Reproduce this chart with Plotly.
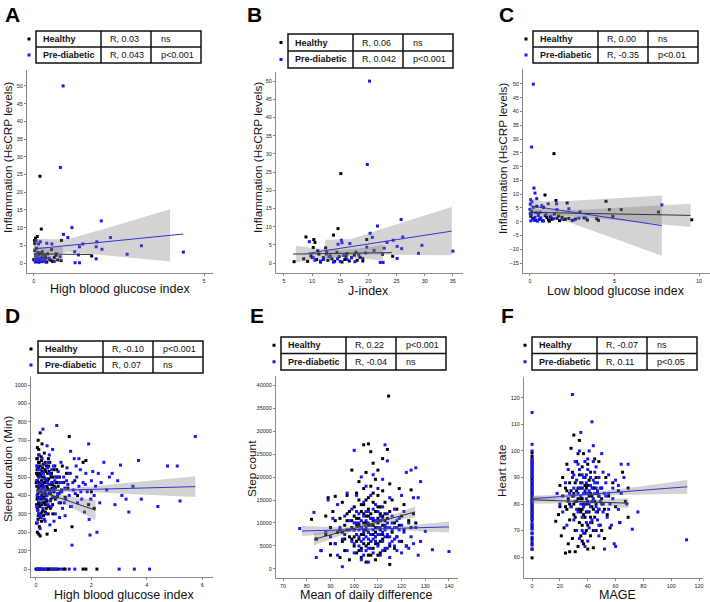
import numpy as np
import plotly.graph_objects as go

W, H = 710, 602
BLUE = "rgb(22,22,250)"
BLACK = "#000000"
FONT = "Liberation Sans, Arial, sans-serif"

# ---------------- DATA ----------------
# Panel A: High blood glucose index vs HsCRP
A_healthy = [(0.18,24.5),(0.22,9.6),(0.81,6.4),(1.70,2.0),(0.00,1.0),(0.02,6.4),(0.03,3.5),(0.05,7.0),(0.05,2.0),(0.07,0.8),
             (0.08,4.2),(0.10,7.5),(0.10,1.5),(0.12,3.0),(0.12,0.5),(0.15,2.4),(0.15,1.2),(0.18,0.6),(0.20,2.8),(0.20,1.0),
             (0.25,3.2),(0.25,1.8),(0.30,0.9),(0.32,2.2),(0.35,1.5),(0.38,0.3),(0.40,2.6),(0.45,1.1),(0.50,0.8),(0.52,3.8),
             (0.55,0.5),(0.60,1.6),(0.65,2.2),(0.70,0.9),(0.80,0.7),(0.03,5.5)]
A_prediab = [(0.86,50),(0.78,27),(1.98,11.9),(1.12,10),(0.87,8.1),(1.0,7.2),(2.25,7.2),(1.85,6.0),(1.44,5.4),(0.53,5.4),
             (0.38,5.6),(0.19,6.0),(0.14,5.4),(0.07,6.3),(1.83,4.6),(2.0,3.9),(3.16,4.9),(2.74,2.5),(4.39,3.1),(1.34,4.6),
             (1.2,3.2),(1.31,2.3),(1.83,1.2),(1.21,0.1),(1.34,0.1),(0.66,2.7),(0.77,1.8),(0.02,0.8),(0.05,0.3),(0.08,1.2),
             (0.1,0.5),(0.12,0.9),(0.15,0.2),(0.18,1.5),(0.2,0.6),(0.25,0.4),(0.3,1.0),(0.35,0.3),(0.05,2.2),(0.1,1.8),
             (0.22,0.7),(0.28,2.0),(0.45,1.4),(0.6,0.5)]
A_fit_h = dict(line_x=[0, 1.7], line_y=[2.6, 2.4], band_x=[0, 0.45, 0.85], band_w=[2.2, 1.8, 2.1])
A_fit_p = dict(line_x=[0, 4.39], line_y=[4.0, 8.2], band_x=[0, 1, 2, 3, 4], band_w=[2.8, 1.8, 3.6, 5.4, 7.4])

# Panel B: J-index vs HsCRP
B_healthy = [(15.1,24.6),(14.6,9.5),(8.9,7.2),(10.3,6.5),(10.5,5.7),(13.8,7.7),(19.7,6.5),(6.8,0.4),(24.3,1.9),(8.5,1.2),
             (9.2,0.5),(9.8,2.0),(10.2,4.3),(10.8,1.0),(11.2,2.5),(11.5,0.3),(12.0,1.5),(12.4,4.2),(12.8,0.8),(13.2,2.0),
             (13.5,1.2),(14.0,0.5),(14.4,3.0),(14.8,1.8),(15.3,0.3),(15.8,1.0),(16.2,2.6),(16.6,0.6),(17.0,1.5),(17.5,2.2),
             (18.0,0.8),(18.5,1.6),(19.0,0.6),(11.0,3.4),(12.6,2.9),(16.0,1.9),(17.8,3.0),(10.0,1.6)]
B_prediab = [(20.2,50),(19.8,27.1),(25.8,12.0),(21.6,10.2),(20.3,8.2),(20.7,7.1),(26.1,7.2),(9.5,5.9),(15.2,6.3),(15.3,5.6),
             (16.7,5.4),(14.6,5.2),(24.4,6.3),(29.5,4.9),(25.9,4.0),(25.1,4.6),(22.8,4.1),(19.7,4.4),(23.3,5.7),(28.9,2.7),
             (35.0,3.3),(25.1,1.3),(22.5,2.4),(22.1,0.2),(22.6,0.2),(10.5,0.8),(12.5,2.5),(10.2,1.5),(11.5,0.6),(13.0,1.8),
             (13.8,0.3),(14.5,1.2),(15.0,0.5),(15.6,2.1),(16.2,1.0),(17.0,1.6),(17.6,0.4),(18.3,2.3),(19.0,1.3),(19.5,2.8),
             (21.0,3.5),(12.0,1.0)]
B_fit_h = dict(line_x=[6.6, 24.2], line_y=[2.5, 2.9], band_x=[7.1, 11, 15, 19, 22.6], band_w=[2.3, 1.4, 1.0, 1.4, 2.2])
B_fit_p = dict(line_x=[9.2, 34.8], line_y=[2.7, 8.8], band_x=[12.3, 17, 22.6, 28, 34.8], band_w=[3.0, 2.1, 3.6, 5.0, 6.6])

# Panel C: Low blood glucose index vs HsCRP
C_healthy = [(1.42,24.7),(0.89,9.7),(1.54,7.7),(2.2,6.8),(4.5,7.4),(4.7,4.4),(5.4,4.4),(2.96,3.5),(4.9,1.9),(7.6,3.5),
             (9.57,0.7),(3.95,1.1),(4.05,0.5),(0.05,2.0),(0.1,3.8),(0.2,1.2),(0.35,0.5),(0.5,2.6),(0.6,1.0),(0.75,0.3),
             (0.9,2.2),(1.0,1.5),(1.1,0.6),(1.2,1.8),(1.3,0.9),(1.45,2.8),(1.6,1.3),(1.75,0.4),(1.9,1.6),(2.05,0.8),
             (2.3,1.2),(2.5,0.5),(2.7,1.0),(3.2,1.4),(0.4,5.6),(0.8,5.2),(1.15,0.2),(1.7,2.1),(2.1,1.0),(3.4,0.6)]
C_prediab = [(0.2,49.9),(0.1,27.1),(0.24,12.2),(0.3,10.4),(0.04,8.0),(0.02,6.4),(0.4,8.4),(1.08,6.5),(1.58,6.5),(2.3,4.7),
             (1.6,4.4),(2.9,1.3),(3.3,1.3),(7.8,6.1),(0.0,4.5),(0.05,0.3),(0.1,2.8),(0.15,1.0),(0.2,5.2),(0.25,0.5),
             (0.3,1.6),(0.35,3.3),(0.45,0.2),(0.5,2.2),(0.55,0.8),(0.65,1.4),(0.7,5.8),(0.8,0.3),(0.95,2.5),(1.25,2.0),
             (1.4,1.1),(1.9,0.9),(2.6,0.6),(0.12,7.2),(0.6,3.4),(0.02,3.0)]
C_fit_h = dict(line_x=[0, 9.5], line_y=[3.4, 2.3], band_x=[0, 1.5, 3, 5, 7.5, 9.5], band_w=[1.5, 1.0, 1.3, 2.2, 3.3, 4.2])
C_fit_p = dict(line_x=[0, 7.8], line_y=[5.8, -1.4], band_x=[0, 0.8, 2, 4, 6, 7.8], band_w=[2.8, 2.3, 3.5, 6.0, 8.5, 10.9])

# Panel D: High blood glucose index vs sleep duration
D_healthy = [(0.02,520),(0.03,450),(0.04,380),(0.05,600),(0.05,330),(0.06,480),(0.07,410),(0.08,550),(0.08,290),(0.09,360),
             (0.10,500),(0.10,430),(0.11,620),(0.12,390),(0.13,470),(0.14,340),(0.15,560),(0.15,420),(0.16,510),(0.17,300),
             (0.18,450),(0.19,380),(0.20,590),(0.20,480),(0.21,350),(0.22,530),(0.23,410),(0.24,460),(0.25,320),(0.26,570),
             (0.27,440),(0.28,390),(0.29,500),(0.30,360),(0.31,470),(0.32,540),(0.33,420),(0.34,310),(0.35,480),(0.36,400),
             (0.38,560),(0.39,450),(0.40,370),(0.42,520),(0.43,430),(0.45,340),(0.46,490),(0.48,410),(0.50,580),(0.52,460),
             (0.54,380),(0.56,520),(0.58,440),(0.60,350),(0.62,500),(0.65,420),(0.68,560),(0.70,380),(0.72,470),(0.75,540),
             (0.78,400),(0.80,450),(0.85,500),(0.88,360),(0.92,430),(0.95,560),(1.00,470),(1.05,390),(1.10,520),(1.15,440),
             (1.20,720),(1.25,340),(1.30,230),(1.40,480),(1.50,400),(1.70,580),(1.80,590),(1.90,350),(2.00,420),(2.10,330),
             (0.02,250),(0.05,200),(0.07,270),(0.10,190),(0.15,180),(0.12,230),(0.20,260),(0.40,190),(0.70,210),(0.05,660),
             (0.10,650),(0.08,700),(0.15,740),(0.22,680),(0.03,600),(0.30,630),(0.45,600),
             (0.0,0),(0.05,0),(0.1,0),(0.15,0),(0.2,0),(0.3,0),(0.4,0),(0.45,0),(0.5,0),(0.6,0),(0.7,0),(0.8,0),(1.0,0),
             (1.05,0),(1.7,0),(1.8,0),(2.2,0),
             (0.01,470),(0.04,540),(0.06,390),(0.09,580),(0.11,350),(0.13,520),(0.17,430),(0.19,610),(0.23,500),(0.27,360),
             (0.33,580),(0.37,330),(0.41,440),(0.47,530),(0.53,410),(0.57,470),(0.63,390),(0.66,450),(0.74,500),(0.83,410),
             (0.03,560),(0.06,510),(0.09,440),(0.12,580),(0.14,460),(0.18,520),(0.21,400),(0.24,550),(0.28,470),(0.31,410),
             (0.35,530),(0.38,370),(0.42,480),(0.46,560),(0.50,430),(0.55,500),(0.60,460),(0.64,540),(0.70,440),(0.76,470),
             (0.02,350),(0.07,320),(0.11,300),(0.16,280),(0.22,310),(0.27,290),(0.34,350),(0.44,300),(0.52,330),(0.61,300)]
D_prediab = [(0.02,480),(0.04,400),(0.05,560),(0.06,320),(0.08,450),(0.10,380),(0.10,620),(0.12,500),(0.14,290),(0.15,430),
             (0.17,540),(0.18,360),(0.20,470),(0.22,600),(0.24,410),(0.25,330),(0.27,520),(0.29,450),(0.30,380),(0.32,570),
             (0.34,430),(0.36,300),(0.38,490),(0.40,400),(0.42,550),(0.44,350),(0.46,460),(0.48,620),(0.50,420),(0.53,510),
             (0.55,340),(0.58,470),(0.60,390),(0.63,560),(0.66,440),(0.70,300),(0.72,500),(0.75,780),(0.78,410),(0.80,530),
             (0.83,360),(0.86,470),(0.90,580),(0.93,420),(0.96,330),(1.00,500),(1.04,440),(1.08,380),(1.12,550),(1.15,460),
             (1.20,400),(1.24,520),(1.28,340),(1.30,130),(1.33,470),(1.38,600),(1.42,410),(1.47,500),(1.50,360),(1.55,450),
             (1.60,540),(1.65,380),(1.70,470),(1.75,310),(1.80,520),(1.85,420),(1.90,680),(1.92,270),(1.95,185),(2.00,480),
             (2.05,530),(2.10,400),(2.15,450),(2.20,200),(2.25,520),(2.30,360),(2.35,470),(2.45,580),(2.55,430),(2.65,500),
             (2.75,520),(2.85,350),(2.95,480),(3.05,565),(3.10,400),(3.25,380),(3.35,310),(3.50,450),(3.70,590),(3.80,380),
             (4.40,340),(4.75,560),(5.10,560),(5.20,370),(5.75,720),(0.25,760),(0.05,250),(0.15,220),(0.30,270),(0.50,240),
             (0.65,260),(0.85,280),(1.05,290),(0.40,670),(0.60,650),(1.25,640),(1.55,600),
             (0.05,0),(0.15,0),(0.25,0),(0.35,0),(0.55,0),(0.65,0),(0.75,0),(0.90,0),(1.20,0),(1.40,0),(3.00,0),(3.55,0),(4.10,0),
             (0.07,540),(0.11,460),(0.16,390),(0.21,520),(0.26,440),(0.31,490),(0.37,380),(0.41,470),(0.47,520),(0.52,370),
             (0.57,540),(0.62,430),(0.68,480),(0.74,390),(0.82,500),(0.88,420),(0.95,470),(1.02,360),(1.10,480),(1.18,520),
             (1.35,430),(1.45,560),(1.62,420),(1.78,460),(1.98,380),(0.03,340),(0.09,300),(0.19,280),(0.33,260),(0.45,580)]
D_fit_h = dict(line_x=[0, 2.15], line_y=[430, 320], band_x=[0, 0.5, 1.0, 1.6, 2.15], band_w=[12, 10, 22, 38, 55])
D_fit_p = dict(line_x=[0, 5.75], line_y=[425, 448], band_x=[0, 0.8, 2, 4, 5.75], band_w=[12, 9, 15, 38, 57])

# Panel E: Mean of daily difference vs step count
E_healthy = [(82,10800),(84,6500),(86,4000),(88,7500),(89,15500),(90,3000),(90,9000),(91,12500),(92,5500),(92,15800),
             (93,8000),(94,2500),(94,11000),(95,6000),(95,14500),(96,9500),(96,4000),(97,12000),(97,16000),(98,7000),
             (98,2000),(99,10500),(99,21500),(100,5000),(100,13500),(100,8500),(101,16500),(101,3500),(102,11000),(102,6500),
             (102,19000),(103,9000),(103,14000),(103,2500),(104,27000),(104,7500),(104,12000),(104,17500),(105,5000),(105,10000),
             (105,15000),(105,21000),(106,27200),(106,8000),(106,3000),(106,13000),(107,25500),(107,11000),(107,6000),(107,18000),
             (108,9500),(108,14500),(108,4500),(108,23000),(109,7000),(109,12500),(109,2000),(109,19500),(110,10000),(110,16000),
             (110,5500),(110,21500),(111,8500),(111,13500),(111,3500),(112,11500),(112,6500),(112,17000),(112,24000),(113,9000),
             (113,4000),(113,14500),(114.5,37600),(114,26000),(114,7000),(114,11000),(115,18500),(115,5000),(115,1000),(115,12500),
             (116,8000),(116,15000),(117,10000),(117,4500),(118,13000),(118,7000),(119,9500),(119,17500),(120,6000),(120,11500),
             (121,14000),(121,8500),(122,5000),(123,10500),(124,17200),(124,9000),(125,12000),(126,10000),(103,4500),(101,9500),
             (99,6500),(97,8500),(105,1500),(107,3000),(109,9000),(111,6000),(113,12000),(100,11500),(104,10000),(106,5500),
             (108,7500),(110,3000),(112,9500),(102,15000),(98,12500),(96,6500),(94,8500),(92,10500),(90,5500),(88,11500),
             (100,7000),(101,11000),(102,9500),(103,12500),(104,8500),(105,11500),(106,9500),(107,12000),(108,10500),(109,8000),
             (110,11000),(111,10500),(112,7500),(113,10500),(101,6000),(103,7500),(105,8500),(107,7500),(109,5500),(111,12000),
             (104,5500),(106,15500),(108,16500),(110,13500),(102,4000),(99,9000),(97,10500),(95,8000),(106,11500),(104,14000)]
E_prediab = [(77,8800),(83,12300),(84,2500),(84,6500),(86,4000),(88,8000),(89,15000),(90,7000),(91,11000),(92,5500),
             (93,3000),(93,14000),(94,9000),(95,500),(95,6500),(96,11500),(97,4000),(97,16500),(98,8500),(99,6000),
             (99,13000),(100,25800),(100,3500),(100,10000),(101,7500),(101,16000),(102,5000),(102,12000),(103,9000),(103,2000),
             (103,20000),(104,6500),(104,14500),(105,10500),(105,4000),(105,18000),(106,8000),(106,12500),(106,1500),(107,6000),
             (107,16000),(107,9500),(108,3500),(108,11000),(108,20500),(109,7000),(109,14000),(110,5000),(110,9000),(110,17500),
             (111,11500),(111,3000),(111,7500),(112,13500),(112,6000),(112,19500),(113,27000),(113,9500),(113,4500),(114,23500),
             (114,12000),(114,7500),(115,15500),(115,5500),(115,2500),(116,10000),(116,8500),(117,6500),(117,13000),(118,4000),
             (118,9000),(119,11000),(119,6000),(120,16000),(120,3500),(121,8000),(121,12500),(122,5000),(122,21000),(123,10000),
             (123,4500),(124,7000),(124,21500),(125,15500),(125,5500),(126,22000),(126,9000),(127,15500),(127,3000),(128,19000),
             (128,6000),(130,8200),(133,4200),(140,3800),(96,7500),(98,10500),(100,5500),(102,8500),(104,3000),(106,10000),
             (108,6500),(110,12500),(112,8000),(114,4500),(116,11500),(118,7000),(120,9500),(101,12500),(103,6000),(105,7000),
             (107,4500),(109,10500),(111,9000),(113,7000),(115,9000),(117,5000),
             (100,8500),(101,10000),(102,7000),(103,10500),(104,8000),(105,9000),(106,6500),(107,11000),(108,8500),(109,6000),
             (110,7500),(111,10500),(112,11000),(113,8500),(114,10000),(115,7000),(116,6000),(117,9000),(118,10500),(119,8500),
             (102,10000),(104,11500),(106,4500),(108,13000),(110,10500),(112,4000),(114,9000),(107,7500),(105,12500),(103,4000)]
E_fit_h = dict(line_x=[83, 125.7], line_y=[6450, 12400], band_x=[83, 95, 106, 116, 125.7], band_w=[1300, 700, 450, 650, 1200])
E_fit_p = dict(line_x=[77.9, 140], line_y=[8250, 9150], band_x=[77.9, 95, 108, 122, 140], band_w=[1150, 500, 400, 500, 1200])

# Panel F: MAGE vs heart rate
F_healthy = [(0,59.7),(0,63),(0,65),(0,67),(0,69),(0,71),(0,72),(0,74),(0,75),(0,76),(0,77),(0,78),(0,79),(0,80),(0,81),
             (0,82),(0,83),(0,84),(0,85),(0,86),(0,87),(0,88),(0,89),(0,90),(0,91),(0,92),(0,93),(0,94),(0,95),(0,96),
             (0,97),(0,98),(0,99.3),
             (17,73.5),(19,76),(20,79),(21,68),(22,83),(22,90),(23,71),(24,86),(24,61.5),(25,78),(25,95),(26,65),(26,82),
             (27,88),(27,74),(28,101),(28,79),(29,67),(29,92),(30,84),(30,76),(30,106),(31,70),(31,88),(32,81),(32,96),
             (33,64),(33,78),(33,86),(34,73),(34,91),(34,104),(35,82),(35,68),(35,77),(36,94),(36,86),(36,72),(37,80),
             (37,99),(37,65),(38,84),(38,75),(38,90),(39,70),(39,80),(40,95),(40,63),(40,87),(41,77),(41,83),(42,68),
             (42,92),(43,79),(43,73),(44,86),(44,63.5),(45,81),(45,75),(46,90),(46,70),(47,84),(48,78),(48,96),(49,72),
             (50,86),(51,80),(52,67),(53,90),(54,76),(55,83),(56,71),(58,88),(60,79),(62,85),(63,73),(65,92),(67,81),
             (69,75),(69,86),(31,62),(27,62),(39,86),(33,99),(45,97),(50,70),(36,78),(42,84),(28,85),(24,79),(20,87),
             (30,80),(32,85),(34,78),(35,88),(36,82),(37,76),(38,87),(39,77),(40,81),(41,89),(42,75),(43,83),(44,78),
             (45,86),(46,80),(47,77),(48,83),(33,82),(31,75),(29,83),(27,80),(25,85),(40,72),(44,70),(36,66),(38,69),
             (50,82),(52,78)]
F_prediab = [(0,63),(0,64.5),(0,66),(0,67.5),(0,69),(0,70.5),(0,72),(0,73),(0,74.5),(0,76),(0,77),(0,78.5),(0,80),(0,81),
             (0,82),(0,83.5),(0,85),(0,86),(0,87),(0,88.5),(0,90),(0,91),(0,92),(0,93),(0,94),(0,95),(0,96),(0,97),
             (0,100),(0,102.5),(0,114.5),
             (18,84),(20,80),(22,77),(24,88),(25,72),(26,93),(27,84),(28,79),(29,121.3),(29,90),(30,74),(30,86),(31,96),
             (31,81),(32,70),(32,89),(33,84),(33,77),(34,93),(34,67),(35,86),(35,80),(35,107),(36,91),(36,75),(37,84),
             (37,69),(38,96),(38,80),(39,88),(39,73),(40,93),(40,77),(40,66),(41,85),(41,100),(42,79),(42,90),(43,111),
             (43,74),(43,86),(44,82),(44,102),(45,88),(45,70),(46,79),(46,94),(47,85),(47,74),(48,90),(48,68),(49,81),
             (50,99),(50,86),(51,77),(51,92),(52,63),(52,84),(53,88),(54,75),(55,91),(56,80),(57,72),(58,86),(59,65),
             (60,64),(60,89),(62,78),(63,73),(64,95),(64,84),(66,90),(68,80),(69,95),(72,70.5),(76,77),(111,66.5),
             (34,100),(38,64),(44,96),(37,90),(30,91),(26,81),(48,78),(55,84),(41,71),(46,86),(33,95),(39,82),
             (30,83),(32,78),(34,86),(35,83),(36,88),(37,79),(38,85),(39,91),(40,84),(41,80),(42,87),(43,81),(44,89),
             (45,84),(46,77),(47,88),(48,83),(49,86),(50,80),(53,83),(55,78),(58,82),(62,87),(45,92),(40,97),(36,70),
             (42,73),(48,72)]
F_fit_h = dict(line_x=[0, 69.3], line_y=[81.6, 80.3], band_x=[0, 20, 35, 50, 69.3], band_w=[1.5, 0.9, 0.6, 1.0, 1.9])
F_fit_p = dict(line_x=[0, 111.5], line_y=[82.0, 86.5], band_x=[0, 20, 40, 70, 111.5], band_w=[1.1, 0.7, 0.6, 1.3, 2.6])

# Stats tables
A_stats = [("Healthy", "R, 0.03", "ns"), ("Pre-diabetic", "R, 0.043", "p<0.001")]
B_stats = [("Healthy", "R, 0.06", "ns"), ("Pre-diabetic", "R, 0.042", "p<0.001")]
C_stats = [("Healthy", "R, 0.00", "ns"), ("Pre-diabetic", "R, -0.35", "p<0.01")]
D_stats = [("Healthy", "R, -0.10", "p<0.001"), ("Pre-diabetic", "R, 0.07", "ns")]
E_stats = [("Healthy", "R, 0.22", "p<0.001"), ("Pre-diabetic", "R, -0.04", "ns")]
F_stats = [("Healthy", "R, -0.07", "ns"), ("Pre-diabetic", "R, 0.11", "p<0.05")]

# ---------------- LAYOUT SPEC (pixels) ----------------
panels = [
    dict(letter="A", letter_px=(3, 14), plot=(27, 213, 70, 273), xr=[-0.2, 5.26], yr=[-2.8, 54.5],
         xt=[0, 5], yt=list(range(0, 55, 5)), xtitle="High blood glucose index", ytitle="Inflammation (HsCRP levels)",
         xtitle_px=(120, 289), ytitle_px=(8, 158), table=(36, 31, 63),
         h=A_healthy, p=A_prediab, fh=A_fit_h, fp=A_fit_p, stats=A_stats),
    dict(letter="B", letter_px=(245, 14), plot=(276, 463, 72, 273), xr=[3.58, 36.8], yr=[-2.7, 52.5],
         xt=list(range(5, 40, 5)), yt=list(range(0, 55, 5)), xtitle="J-index", ytitle="Inflammation (HsCRP levels)",
         xtitle_px=(368, 290.5), ytitle_px=(258, 158), table=(288, 34, 68),
         h=B_healthy, p=B_prediab, fh=B_fit_h, fp=B_fit_p, stats=B_stats),
    dict(letter="C", letter_px=(497, 14), plot=(523, 710, 69, 273), xr=[-0.41, 10.65], yr=[-18.6, 55.4],
         xt=[0, 5, 10], yt=list(range(-15, 55, 5)), xtitle="Low blood glucose index", ytitle="Inflammation (HsCRP levels)",
         xtitle_px=(616, 290.5), ytitle_px=(503, 159), table=(533, 31, 63),
         h=C_healthy, p=C_prediab, fh=C_fit_h, fp=C_fit_p, stats=C_stats),
    dict(letter="D", letter_px=(3, 315), plot=(31, 213, 376, 577), xr=[-0.18, 6.39], yr=[-43, 1049],
         xt=[0, 2, 4, 6], yt=list(range(0, 1100, 100)), xtitle="High blood glucose index", ytitle="Sleep duration (Min)",
         xtitle_px=(124, 595), ytitle_px=(8, 469), table=(38, 341, 373),
         h=D_healthy, p=D_prediab, fh=D_fit_h, fp=D_fit_p, stats=D_stats),
    dict(letter="E", letter_px=(248, 315), plot=(276, 458, 376, 578), xr=[67.0, 143.8], yr=[-1960, 41960],
         xt=list(range(70, 150, 10)), yt=list(range(0, 45000, 5000)), xtitle="Mean of daily difference", ytitle="Step count",
         xtitle_px=(366, 595), ytitle_px=(252, 469), table=(281, 337, 370),
         h=E_healthy, p=E_prediab, fh=E_fit_h, fp=E_fit_p, stats=E_stats),
    dict(letter="F", letter_px=(499, 315), plot=(524, 703, 377, 578), xr=[-5.8, 122.8], yr=[52.1, 127.9],
         xt=list(range(0, 140, 20)), yt=list(range(60, 130, 10)), xtitle="MAGE", ytitle="Heart rate",
         xtitle_px=(617, 595), ytitle_px=(502, 470), table=(532, 337, 370),
         h=F_healthy, p=F_prediab, fh=F_fit_h, fp=F_fit_p, stats=F_stats),
]


def fx(p):
    return p / W


def fy(p):
    return 1 - p / H


fig = go.Figure()
shapes = []
annotations = []

for i, pn in enumerate(panels):
    k = "" if i == 0 else str(i + 1)
    xa, ya = "x" + k, "y" + k
    x0, x1, y0, y1 = pn["plot"]

    # points
    for pts, col in ((pn["h"], BLACK), (pn["p"], BLUE)):
        xs = [q[0] for q in pts]
        ys = [q[1] for q in pts]
        fig.add_trace(go.Scatter(x=xs, y=ys, mode="markers", xaxis=xa, yaxis=ya, showlegend=False,
                                 marker=dict(symbol="square", size=3, color=col, line=dict(width=0))))
    # confidence bands
    for fit in (pn["fh"], pn["fp"]):
        bx = np.array(fit["band_x"], dtype=float)
        c = np.interp(bx, fit["line_x"], fit["line_y"])
        w = np.array(fit["band_w"], dtype=float)
        up, lo = c + w, c - w
        fig.add_trace(go.Scatter(x=list(bx) + list(bx[::-1]), y=list(up) + list(lo[::-1]), mode="lines",
                                 fill="toself", fillcolor="rgba(120,120,120,0.33)", line=dict(width=0),
                                 xaxis=xa, yaxis=ya, showlegend=False, hoverinfo="skip"))
    # regression lines
    for fit, col in ((pn["fh"], "#333333"), (pn["fp"], "rgb(50,50,215)")):
        fig.add_trace(go.Scatter(x=fit["line_x"], y=fit["line_y"], mode="lines", line=dict(color=col, width=1),
                                 xaxis=xa, yaxis=ya, showlegend=False))

    axis_common = dict(showline=True, linecolor="#8a8a8a", linewidth=1, ticks="outside", ticklen=2,
                       tickcolor="#8a8a8a", tickwidth=1, showgrid=False, zeroline=False, tickformat="d",
                       tickfont=dict(size=5.5, color="#222", family=FONT))
    fig.update_layout(**{
        ("xaxis" + k): dict(domain=[fx(x0), fx(x1)], range=pn["xr"], tickvals=pn["xt"], anchor=ya, **axis_common),
        ("yaxis" + k): dict(domain=[fy(y1), fy(y0)], range=pn["yr"], tickvals=pn["yt"], anchor=xa, **axis_common),
    })

    # titles
    annotations.append(dict(x=fx(pn["xtitle_px"][0]), y=fy(pn["xtitle_px"][1]), xref="paper", yref="paper",
                            text=pn["xtitle"], showarrow=False, xanchor="center", yanchor="middle",
                            font=dict(size=12.5, color="#111", family=FONT)))
    annotations.append(dict(x=fx(pn["ytitle_px"][0]), y=fy(pn["ytitle_px"][1]), xref="paper", yref="paper",
                            text=pn["ytitle"], showarrow=False, textangle=-90, xanchor="center", yanchor="middle",
                            font=dict(size=11.8, color="#111", family=FONT)))
    annotations.append(dict(x=fx(pn["letter_px"][0]), y=fy(pn["letter_px"][1]), xref="paper", yref="paper",
                            text="<b>" + pn["letter"] + "</b>", showarrow=False, xanchor="left", yanchor="middle",
                            font=dict(size=21, color="#000", family=FONT)))

    # stats table
    L, T, B = pn["table"]
    cw = [65, 50, 50]
    R = L + sum(cw)
    M = (T + B) / 2
    rh = (B - T) / 2
    lk = dict(color="#111", width=1.5)
    shapes.append(dict(type="rect", xref="paper", yref="paper", x0=fx(L), x1=fx(R), y0=fy(B), y1=fy(T), line=lk))
    shapes.append(dict(type="line", xref="paper", yref="paper", x0=fx(L), x1=fx(R), y0=fy(M), y1=fy(M), line=lk))
    for cx in (L + cw[0], L + cw[0] + cw[1]):
        shapes.append(dict(type="line", xref="paper", yref="paper", x0=fx(cx), x1=fx(cx), y0=fy(B), y1=fy(T), line=lk))
    for r, (lab, rv, pv) in enumerate(pn["stats"]):
        cy = T + rh * (r + 0.5)
        col = BLACK if r == 0 else BLUE
        shapes.append(dict(type="rect", xref="paper", yref="paper", x0=fx(L - 8.5), x1=fx(L - 5.5),
                           y0=fy(cy + 1.5), y1=fy(cy - 1.5), fillcolor=col, line=dict(width=0)))
        for txt, tx in (("<b>" + lab + "</b>", L + 5), (rv, L + cw[0] + 7), (pv, L + cw[0] + cw[1] + 8)):
            annotations.append(dict(x=fx(tx), y=fy(cy), xref="paper", yref="paper", text=txt, showarrow=False,
                                    xanchor="left", yanchor="middle", font=dict(size=9, color="#111", family=FONT)))

fig.update_layout(width=W, height=H, margin=dict(l=0, r=0, t=0, b=0), plot_bgcolor="white",
                  paper_bgcolor="white", shapes=shapes, annotations=annotations, showlegend=False,
                  font=dict(family=FONT))
fig.write_html("out.html", config={"displayModeBar": False},
               post_script="document.body.style.margin='0';document.body.style.padding='0';")
